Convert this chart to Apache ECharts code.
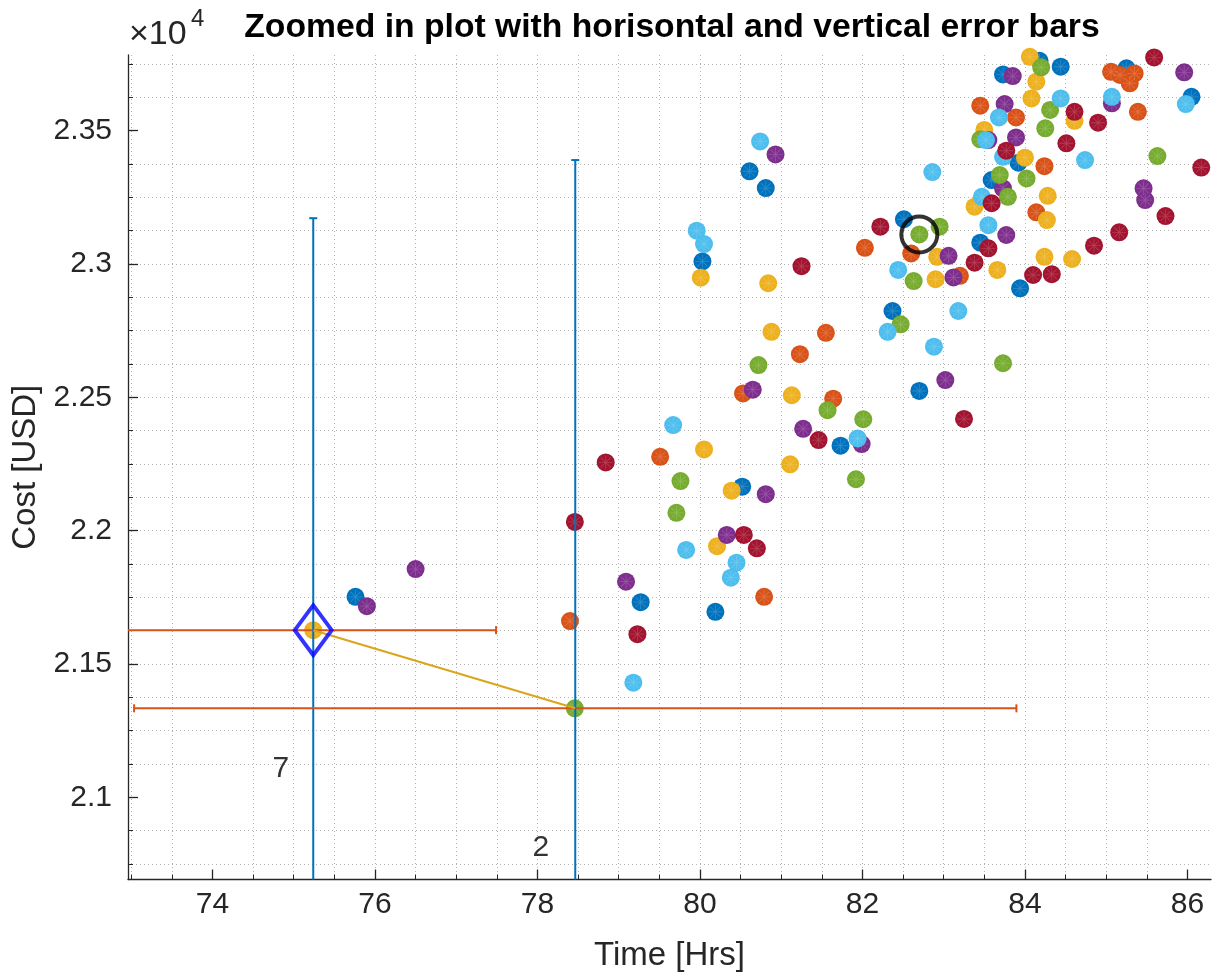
<!DOCTYPE html>
<html>
<head>
<meta charset="utf-8">
<script src="https://cdn.jsdelivr.net/npm/echarts@6/dist/echarts.min.js"></script>
<style>
html,body{margin:0;padding:0;background:#fff;}
#chart{width:1215px;height:973px;}
</style>
</head>
<body>
<div id="chart"></div>
<script>
// ---- axis ranges and ticks ----
const xRange = [72.96, 86.29];
const yRange = [20692, 23784];
const xTicks = [74, 76, 78, 80, 82, 84, 86];
const xTickLabels = ['74', '76', '78', '80', '82', '84', '86'];
const yTicks = [21000, 21500, 22000, 22500, 23000, 23500];
const yTickLabels = ['2.1', '2.15', '2.2', '2.25', '2.3', '2.35'];

// ---- scatter groups (Time [Hrs], Cost [USD]) ----
const blueX = [75.76, 79.27, 80.19, 80.52, 81.73, 80.61, 80.81, 80.03, 82.37, 82.70, 82.51, 83.45, 83.94, 83.73, 83.59, 83.92, 84.18, 84.44, 85.25, 86.05];
const blueY = [21752, 21732, 21696, 22165, 22319, 23348, 23285, 23010, 22824, 22524, 23168, 23080, 22909, 23711, 23315, 23380, 23762, 23740, 23734, 23627];

const orangeX = [78.40, 80.79, 79.51, 80.53, 81.64, 81.23, 81.55, 82.03, 82.60, 83.20, 83.45, 83.89, 84.14, 84.24, 85.06, 85.17, 85.35, 85.29, 85.39];
const orangeY = [21661, 21752, 22277, 22515, 22495, 22662, 22742, 23061, 23040, 22956, 23594, 23550, 23194, 23367, 23721, 23709, 23715, 23678, 23571];

const yellowX = [75.24, 80.21, 80.39, 81.11, 80.05, 81.13, 80.88, 80.84, 80.01, 82.92, 82.90, 83.38, 83.66, 83.50, 84.06, 84.14, 84.08, 84.00, 84.28, 84.27, 84.61, 84.24, 84.58];
const yellowY = [21627, 21942, 22150, 22249, 22305, 22508, 22746, 22928, 22949, 23027, 22943, 23215, 22978, 23503, 23777, 23684, 23621, 23399, 23256, 23165, 23537, 23027, 23019];

const purpleX = [75.90, 76.50, 79.09, 80.33, 80.81, 80.65, 81.27, 81.99, 80.93, 83.02, 83.06, 83.12, 83.77, 83.73, 83.85, 83.75, 83.55, 83.89, 85.07, 85.46, 85.48, 85.96];
const purpleY = [21717, 21856, 21809, 21984, 22137, 22529, 22382, 22325, 23411, 22565, 23031, 22950, 23109, 23284, 23705, 23600, 23465, 23475, 23603, 23284, 23240, 23719];

const greenX = [78.46, 79.71, 79.76, 80.72, 81.57, 82.01, 81.92, 82.47, 82.63, 82.70, 82.95, 83.73, 83.69, 83.79, 83.45, 84.02, 84.20, 84.31, 84.25, 85.63];
const greenY = [21334, 22067, 22186, 22621, 22452, 22418, 22193, 22774, 22936, 23111, 23140, 22628, 23334, 23252, 23468, 23321, 23738, 23578, 23509, 23405];

const lightBlueX = [79.18, 79.83, 80.45, 80.38, 79.67, 81.94, 79.96, 80.05, 80.74, 82.31, 83.18, 82.88, 82.44, 82.86, 83.47, 83.55, 83.68, 83.52, 83.73, 84.44, 84.74, 85.07, 85.98];
const lightBlueY = [21430, 21928, 21880, 21824, 22396, 22346, 23125, 23075, 23460, 22746, 22824, 22690, 22978, 23345, 23252, 23146, 23550, 23465, 23402, 23621, 23390, 23627, 23600];

const darkRedX = [78.46, 78.84, 79.23, 80.54, 80.70, 81.46, 81.25, 82.22, 83.25, 83.59, 83.55, 83.38, 83.77, 84.61, 84.90, 84.51, 85.59, 86.17, 85.73, 85.16, 84.85, 84.10, 84.33];
const darkRedY = [22033, 22256, 21612, 21984, 21934, 22340, 22992, 23140, 22419, 23228, 23059, 23005, 23425, 23571, 23530, 23453, 23775, 23362, 23180, 23119, 23069, 22959, 22962];

// ---- error bar points ----
const errX = [75.24, 78.465];
const errY = [21627, 21334];
const errXNeg = [2.30, 5.43];
const errXPos = [2.25, 5.43];
const errYNeg = [1545, 2056];
const errYPos = [1545, 2056];

// ---- highlights and annotations ----
const diamondPt = [75.24, 21627];
const circlePt = [82.70, 23111];
const noteX = [74.84, 78.04];
const noteY = [21106, 20810];
const noteText = ['7', '2'];

const FONT = '"Liberation Sans", Arial, Helvetica, sans-serif';
const TXT = '#262626';
const GRID = '#b4b4b4';

function zip(xs, ys) { return xs.map((x, i) => [x, ys[i]]); }

// asterisk glyph drawn lightly on top of each filled marker
function asteriskPath() {
  const r = 45, w = 2.6, c = 50;
  let d = '';
  [0, 45, 90, 135].forEach(a => {
    const t = a * Math.PI / 180, ct = Math.cos(t), st = Math.sin(t);
    const p = [
      [c + r * ct - w * st, c + r * st + w * ct],
      [c + r * ct + w * st, c + r * st - w * ct],
      [c - r * ct + w * st, c - r * st - w * ct],
      [c - r * ct - w * st, c - r * st + w * ct]
    ];
    d += 'M' + p.map(q => q[0].toFixed(2) + ',' + q[1].toFixed(2)).join('L') + 'Z';
  });
  return 'path://' + d;
}
const STAR = asteriskPath();

const groups = [
  { name: 'blue', color: '#0072BD', x: blueX, y: blueY },
  { name: 'orange', color: '#D95319', x: orangeX, y: orangeY },
  { name: 'yellow', color: '#EDB120', x: yellowX, y: yellowY },
  { name: 'purple', color: '#7E2F8E', x: purpleX, y: purpleY },
  { name: 'green', color: '#77AC30', x: greenX, y: greenY },
  { name: 'lightblue', color: '#4DBEEE', x: lightBlueX, y: lightBlueY },
  { name: 'darkred', color: '#A2142F', x: darkRedX, y: darkRedY }
];

const scatterSeries = [];
groups.forEach((g, gi) => {
  scatterSeries.push({
    name: g.name,
    type: 'scatter',
    data: zip(g.x, g.y),
    symbol: 'circle',
    symbolSize: 18,
    clip: false,
    z: 2, zlevel: 0,
    itemStyle: { color: g.color, opacity: 1, borderWidth: 0 },
    emphasis: { disabled: true },
    silent: true
  });
  scatterSeries.push({
    name: g.name + '-star',
    type: 'scatter',
    data: zip(g.x, g.y),
    symbol: STAR,
    symbolSize: 14,
    clip: false,
    z: 2,
    itemStyle: { color: 'rgba(255,255,255,0.22)', borderWidth: 0 },
    emphasis: { disabled: true },
    silent: true
  });
});

function renderErr(params, api) {
  const x = api.value(0), y = api.value(1);
  const xn = api.value(2), xp = api.value(3), yn = api.value(4), yp = api.value(5);
  const cs = params.coordSys;
  const x0 = cs.x, x1 = cs.x + cs.width, y0 = cs.y, y1 = cs.y + cs.height;
  const cx = v => Math.max(x0, Math.min(x1, v));
  const cy = v => Math.max(y0, Math.min(y1, v));
  const L = api.coord([x - xn, y]);
  const R = api.coord([x + xp, y]);
  const T = api.coord([x, y + yp]);
  const B = api.coord([x, y - yn]);
  const cap = 4;
  const hs = { stroke: '#D95319', lineWidth: 2, fill: null };
  const vs = { stroke: '#0072BD', lineWidth: 2, fill: null };
  const ch = [];
  ch.push({ type: 'line', shape: { x1: cx(L[0]), y1: L[1], x2: cx(R[0]), y2: R[1] }, style: hs });
  if (L[0] >= x0) ch.push({ type: 'line', shape: { x1: L[0], y1: L[1] - cap, x2: L[0], y2: L[1] + cap }, style: hs });
  if (R[0] <= x1) ch.push({ type: 'line', shape: { x1: R[0], y1: R[1] - cap, x2: R[0], y2: R[1] + cap }, style: hs });
  ch.push({ type: 'line', shape: { x1: T[0], y1: cy(T[1]), x2: B[0], y2: cy(B[1]) }, style: vs });
  if (T[1] >= y0) ch.push({ type: 'line', shape: { x1: T[0] - cap, y1: T[1], x2: T[0] + cap, y2: T[1] }, style: vs });
  if (B[1] <= y1) ch.push({ type: 'line', shape: { x1: B[0] - cap, y1: B[1], x2: B[0] + cap, y2: B[1] }, style: vs });
  return { type: 'group', children: ch };
}

const errData = errX.map((x, i) => [x, errY[i], errXNeg[i], errXPos[i], errYNeg[i], errYPos[i]]);

const chart = echarts.init(document.getElementById('chart'), null, { renderer: 'canvas' });

const option = {
  animation: false,
  backgroundColor: '#ffffff',
  textStyle: { fontFamily: FONT },
  grid: { left: 128, right: 4, top: 55, bottom: 93.5, containLabel: false, outerBoundsMode: 'none' },
  xAxis: {
    type: 'value',
    min: xRange[0], max: xRange[1],
    minInterval: 2, maxInterval: 2, splitNumber: 6,
    name: 'Time [Hrs]', nameLocation: 'middle', nameGap: 60,
    nameTextStyle: { fontFamily: FONT, fontSize: 33, color: TXT },
    axisLine: { show: true, onZero: false, lineStyle: { color: TXT, width: 1.3 } },
    axisTick: { show: true, inside: true, length: 10, lineStyle: { color: TXT, width: 1.3 }, customValues: xTicks },
    minorTick: { show: true, splitNumber: 4, length: 5, lineStyle: { color: TXT, width: 1 } },
    axisLabel: {
      show: true, margin: 10, fontFamily: FONT, fontSize: 30, color: TXT,
      customValues: xTicks,
      formatter: v => { const i = xTicks.indexOf(v); return i >= 0 ? xTickLabels[i] : ''; }
    },
    splitLine: { show: true, showMinLine: false, showMaxLine: false, lineStyle: { color: GRID, type: [1, 3], width: 1 } },
    minorSplitLine: { show: true, lineStyle: { color: GRID, type: [1, 3], width: 1 } }
  },
  yAxis: {
    type: 'value',
    min: yRange[0], max: yRange[1],
    minInterval: 500, maxInterval: 500, splitNumber: 6,
    name: 'Cost [USD]', nameLocation: 'middle', nameGap: 75,
    nameTextStyle: { fontFamily: FONT, fontSize: 33, color: TXT },
    axisLine: { show: true, onZero: false, lineStyle: { color: TXT, width: 1.3 } },
    axisTick: { show: true, inside: true, length: 10, lineStyle: { color: TXT, width: 1.3 }, customValues: yTicks },
    minorTick: { show: true, splitNumber: 4, length: 5, lineStyle: { color: TXT, width: 1 } },
    axisLabel: {
      show: true, margin: 16, fontFamily: FONT, fontSize: 30, color: TXT,
      customValues: yTicks,
      formatter: v => { const i = yTicks.indexOf(v); return i >= 0 ? yTickLabels[i] : ''; }
    },
    splitLine: { show: true, showMinLine: false, showMaxLine: false, lineStyle: { color: GRID, type: [1, 3], width: 1 } },
    minorSplitLine: { show: true, lineStyle: { color: GRID, type: [1, 3], width: 1 } }
  },
  graphic: [
    { type: 'text', x: 672, y: 28, z: 10,
      style: { text: 'Zoomed in plot with horisontal and vertical error bars', font: 'bold 33.7px ' + FONT, fill: '#000000', align: 'center', verticalAlign: 'middle' } },
    { type: 'text', x: 129, y: 35, z: 10,
      style: { text: '\u00d710', font: '34px ' + FONT, fill: TXT, align: 'left', verticalAlign: 'middle' } },
    { type: 'text', x: 191, y: 19, z: 10,
      style: { text: '4', font: '24px ' + FONT, fill: TXT, align: 'left', verticalAlign: 'middle' } }
  ],
  series: scatterSeries.concat([
    {
      name: 'errorbars', type: 'custom', renderItem: renderErr, data: errData,
      encode: { x: 0, y: 1 }, z: 3, silent: true, clip: false
    },
    {
      name: 'link', type: 'line', data: zip(errX, errY), symbol: 'none', z: 3,
      lineStyle: { color: '#D9A51C', width: 2 }, silent: true
    },
    {
      name: 'diamond', type: 'scatter', data: [diamondPt], symbol: 'diamond', symbolSize: [37, 50], z: 4,
      itemStyle: { color: 'rgba(0,0,0,0)', borderColor: '#0000FF', borderWidth: 4 }, silent: true, clip: false
    },
    {
      name: 'circle', type: 'scatter', data: [circlePt], symbol: 'circle', symbolSize: 36, z: 4,
      itemStyle: { color: 'rgba(0,0,0,0)', borderColor: '#000000', borderWidth: 4 }, silent: true, clip: false
    },
    {
      name: 'notes', type: 'scatter',
      data: noteX.map((x, i) => ({ value: [x, noteY[i]], name: noteText[i] })),
      symbolSize: 1, itemStyle: { color: 'rgba(0,0,0,0)' }, z: 5, silent: true,
      label: { show: true, position: 'inside', formatter: p => p.name, fontFamily: FONT, fontSize: 30, color: '#000000' }
    }
  ])
};
chart.setOption(option);
</script>
</body>
</html>
